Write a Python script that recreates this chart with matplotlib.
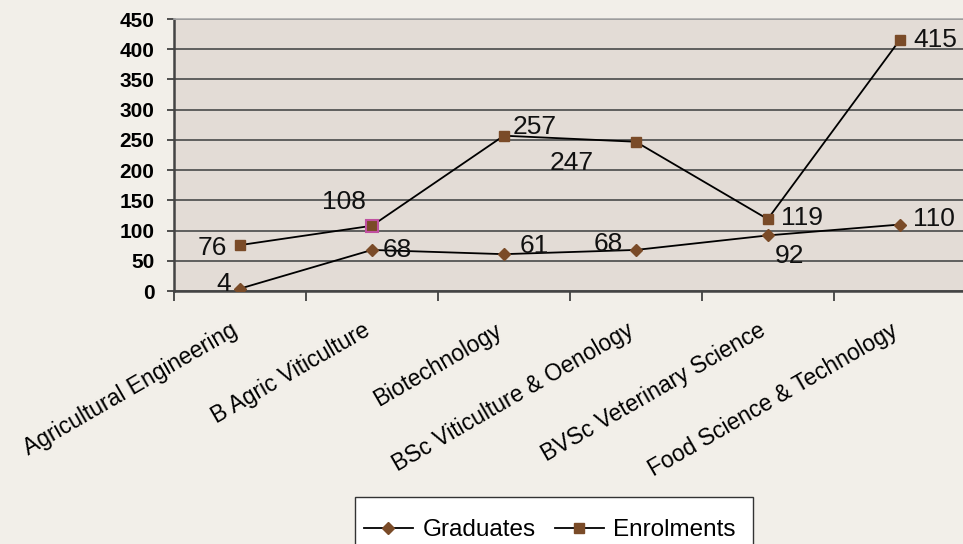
import matplotlib
matplotlib.use("Agg")
import matplotlib.pyplot as plt
import numpy as np
from matplotlib.transforms import ScaledTranslation
from matplotlib.patches import Rectangle

categories = ["Agricultural Engineering", "B Agric Viticulture", "Biotechnology",
              "BSc Viticulture & Oenology", "BVSc Veterinary Science", "Food Science & Technology"]
graduates = [4, 68, 61, 68, 92, 110]
enrolments = [76, 108, 257, 247, 119, 415]
yticks = [0, 50, 100, 150, 200, 250, 300, 350, 400, 450]

# label offsets in points (dx, dy)
grad_offsets = [(-12, 3), (18, 0), (22, 6), (-20, 4), (16, -15), (25, 4)]
enrol_offsets = [(-20, -2), (-20, 17), (22, 6), (-46, -15), (25, 1), (26, 0)]

plt.rcParams['font.family'] = ['Liberation Sans', 'DejaVu Sans']
fig = plt.figure(figsize=(9.63, 5.44), dpi=100)
fig.patch.set_facecolor('#F2EFE9')
ax = fig.add_axes([0.1807, 0.465, 0.822, 0.500])
ax.set_facecolor('#E3DCD6')

x = np.arange(len(categories))
mc = '#7A4B28'
ax.plot(x, graduates, color='black', lw=1.3, marker='D', ms=6.5, mfc=mc, mec=mc, zorder=3, label='Graduates')
ax.plot(x, enrolments, color='black', lw=1.3, marker='s', ms=7.5, mfc=mc, mec=mc, zorder=3, label='Enrolments')
# highlighted marker
ax.plot([x[1]], [enrolments[1]], marker='s', ms=8.5, mfc=mc, mec='#C050A0', mew=1.5, ls='none', zorder=4)

for xi, v, (dx, dy) in zip(x, graduates, grad_offsets):
    ax.annotate(str(v), (xi, v), xytext=(dx, dy), textcoords='offset points',
                ha='center', va='center', fontsize=19, color='#111111', zorder=5)
for xi, v, (dx, dy) in zip(x, enrolments, enrol_offsets):
    ax.annotate(str(v), (xi, v), xytext=(dx, dy), textcoords='offset points',
                ha='center', va='center', fontsize=19, color='#111111', zorder=5)

ax.set_xlim(-0.5, len(categories) - 0.5)
ax.set_ylim(0, 450)
ax.set_yticks(yticks)
ax.set_yticklabels([str(t) for t in yticks], fontsize=15, fontweight='bold')
ax.yaxis.grid(True, color='#555555', lw=1.3)
ax.set_axisbelow(True)
ax.tick_params(axis='y', length=5, width=1.2, color='#333333', pad=9)

ax.set_xticks(np.arange(-0.5, len(categories) + 0.5, 1), minor=False)
ax.set_xticklabels([])
ax.set_xticks(x, minor=True)
ax.set_xticklabels(categories, minor=True, rotation=30, ha='right', va='top',
                   rotation_mode='anchor', fontsize=16.5)
ax.tick_params(axis='x', which='major', length=7, width=1.2, color='#333333')
ax.tick_params(axis='x', which='minor', length=0, pad=0)

for s in ['left', 'bottom']:
    ax.spines[s].set_color('#444444')
    ax.spines[s].set_linewidth(1.8)
ax.spines['top'].set_color('#AAAAAA')
ax.spines['top'].set_linewidth(1.2)
ax.spines['right'].set_visible(False)

off = ScaledTranslation(-0.10, -0.28, fig.dpi_scale_trans)
for lbl in ax.get_xticklabels(minor=True):
    lbl.set_transform(lbl.get_transform() + off)

# legend frame (extends past the bottom edge as in the original)
fig.patches.append(Rectangle((355 / 963, -0.03), 398 / 963, (544 - 497) / 544 + 0.03,
                             transform=fig.transFigure, facecolor='white',
                             edgecolor='#333333', lw=1.0, zorder=0))
leg = fig.legend(loc='center', bbox_to_anchor=(0.571, 1 - 530 / 544), ncol=2, fontsize=17.5,
                 frameon=False, handlelength=2.0, handletextpad=0.4, columnspacing=0.8,
                 borderpad=0.2)

fig.savefig('out.png', dpi=100, facecolor=fig.get_facecolor())
